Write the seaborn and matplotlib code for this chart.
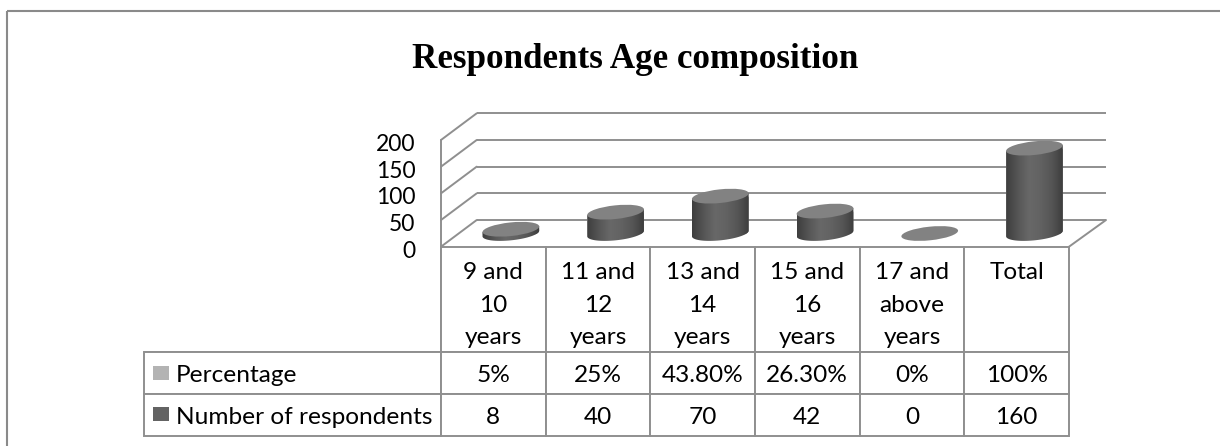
import numpy as np
import pandas as pd
import matplotlib
matplotlib.use('Agg')
import matplotlib.pyplot as plt
import seaborn as sns
from matplotlib.colors import LinearSegmentedColormap
from matplotlib.patches import Ellipse, Rectangle
from matplotlib.path import Path
from matplotlib.transforms import Affine2D, IdentityTransform

# Chart values
age_groups = ['9 and\n10\nyears', '11 and\n12\nyears', '13 and\n14\nyears',
              '15 and\n16\nyears', '17 and\nabove\nyears', 'Total\n\n']
percentage = ['5%', '25%', '43.80%', '26.30%', '0%', '100%']
respondents = [8, 40, 70, 42, 0, 160]
y_ticks = [0, 50, 100, 150, 200]
series_names = ['Percentage', 'Number of respondents']

W, H = 1220, 446
LINE = '#8f8f8f'

sns.set_style('white')
plt.rcParams['font.family'] = ['Lato', 'DejaVu Sans']

fig = plt.figure(figsize=(W / 100, H / 100), dpi=100)


def px_axes(left, top, right, bottom):
    # axes placed by pixel box of the image
    return fig.add_axes([left / W, 1 - bottom / H, (right - left) / W, (bottom - top) / H])


# Outer frame (runs off the right and bottom of the image) and title
bg = px_axes(0, 0, W, H)
bg.set_xlim(0, W)
bg.set_ylim(H, 0)
bg.axis('off')
bg.add_patch(Rectangle((6.5, 11), 1300, 500, fill=False, ec='#8a8a8a', lw=1.5))
bg.text(635, 60, 'Respondents Age composition', ha='center', va='center',
        family='Liberation Serif', weight='bold', fontsize=25.2, color='black')

# Walls: back wall sits 50 value units behind the front edge
depth = 50
ax_grid = px_axes(441, 113.3, 1106, 246.7)
ax_grid.set_xlim(441, 1106)
ax_grid.set_ylim(0, 250)
sns.despine(ax=ax_grid, left=True, bottom=True)
ax_grid.patch.set_visible(False)
ax_grid.hlines([v + depth for v in y_ticks], 476.7, 1106, color=LINE, lw=1.4, clip_on=False)
for v in y_ticks:
    ax_grid.plot([441, 476.7], [v, v + depth], color=LINE, lw=1.4, clip_on=False)
ax_grid.plot([441, 441], [0, 200], color=LINE, lw=1.4, clip_on=False)
ax_grid.plot([1069, 1106], [0, depth], color=LINE, lw=1.4, clip_on=False)
ax_grid.set_xticks([])
ax_grid.set_yticks(y_ticks)
ax_grid.tick_params(axis='y', length=0, pad=18.5, labelsize=16.5, labelcolor='black')
for lab in ax_grid.get_yticklabels():
    lab.set_transform(lab.get_transform() + Affine2D().translate(0, -2.5))

# Cylinders
ax_bars = px_axes(458.5, 126.8, 1086.8, 233.5)
df = pd.DataFrame({'age': age_groups, 'number': respondents})
bar_w = 57 / 104.7
sns.barplot(data=df, x='age', y='number', ax=ax_bars, width=bar_w, color='#555555',
            saturation=1, legend=False)
ax_bars.set_xlim(-0.5, 5.5)
ax_bars.set_ylim(0, 200)
ax_bars.axis('off')

a, b, tilt = 28.5, 6.8, 6
th = np.radians(tilt)
cyl_cmap = LinearSegmentedColormap.from_list(
    'cyl', ['#3e3e3e', '#565656', '#686868', '#626262', '#555555', '#3c3c3c'])
shade = np.linspace(0, 1, 64).reshape(1, -1)
t = np.linspace(np.pi, 2 * np.pi, 40)
arc_x = a * np.cos(t) * np.cos(th) - b * np.sin(t) * np.sin(th)
arc_y = a * np.cos(t) * np.sin(th) + b * np.sin(t) * np.cos(th)

for i, (bar, val) in enumerate(zip(ax_bars.containers[0], respondents)):
    cx, cy = ax_bars.transData.transform((i, 0))
    tx, ty = ax_bars.transData.transform((i, val))
    if val > 0:
        xs = np.r_[cx + arc_x, tx + arc_x[-1], tx + arc_x[0], cx + arc_x[0]]
        ys = np.r_[cy + arc_y, ty + arc_y[-1], ty + arc_y[0], cy + arc_y[0]]
        body = Path(np.c_[xs, ys])
        bar.set_clip_path(body, IdentityTransform())
        img = ax_bars.imshow(shade, cmap=cyl_cmap, aspect='auto', zorder=3,
                             extent=(i - bar_w / 2, i + bar_w / 2, -20, val + 20))
        img.set_clip_path(body, IdentityTransform())
        img.set_clip_box(fig.bbox)
        bar.set_clip_box(fig.bbox)
    top = Ellipse((0, 0), 2 * a, 2 * b, angle=tilt, fc='#828282', ec='none', zorder=4,
                  transform=Affine2D().translate(tx, ty), clip_on=False)
    ax_bars.add_artist(top)
ax_bars.set_xlim(-0.5, 5.5)
ax_bars.set_ylim(0, 200)

# Data table below the plot
ax_tab = px_axes(144, 246.7, 1069, 436)
ax_tab.set_xlim(144, 1069)
ax_tab.set_ylim(436, 246.7)
ax_tab.axis('off')
rows = [[''] + age_groups, [series_names[0]] + percentage,
        [series_names[1]] + [str(n) for n in respondents]]
col_w = [297] + [104.7] * 6
tab = ax_tab.table(cellText=rows, colWidths=[c / 925 for c in col_w], cellLoc='center',
                   bbox=[0, 0, 1, 1])
tab.auto_set_font_size(False)
row_h = [105.3, 41.5, 42.4]
for (r, c), cell in tab.get_celld().items():
    cell.set_height(row_h[r])
    cell.set_edgecolor(LINE)
    cell.set_linewidth(1.4)
    cell.set_text_props(fontsize=17.6, color='black', linespacing=1.68)
    # text in the reference sits lower than the cell centre
    cell.get_text().set_transform(Affine2D().translate(0, -6 if r == 0 else -3))
    if c == 0:
        cell.set_text_props(ha='left')
        cell.PAD = 0.108
tab[(0, 0)].visible_edges = 'BR'

ax_tab.add_patch(Rectangle((153, 366), 16, 14, fc='#b3b3b3', ec='none', zorder=6))
ax_tab.add_patch(Rectangle((153, 407), 16, 14, fc='#636363', ec='none', zorder=6))

plt.savefig('out.png', dpi=100)
